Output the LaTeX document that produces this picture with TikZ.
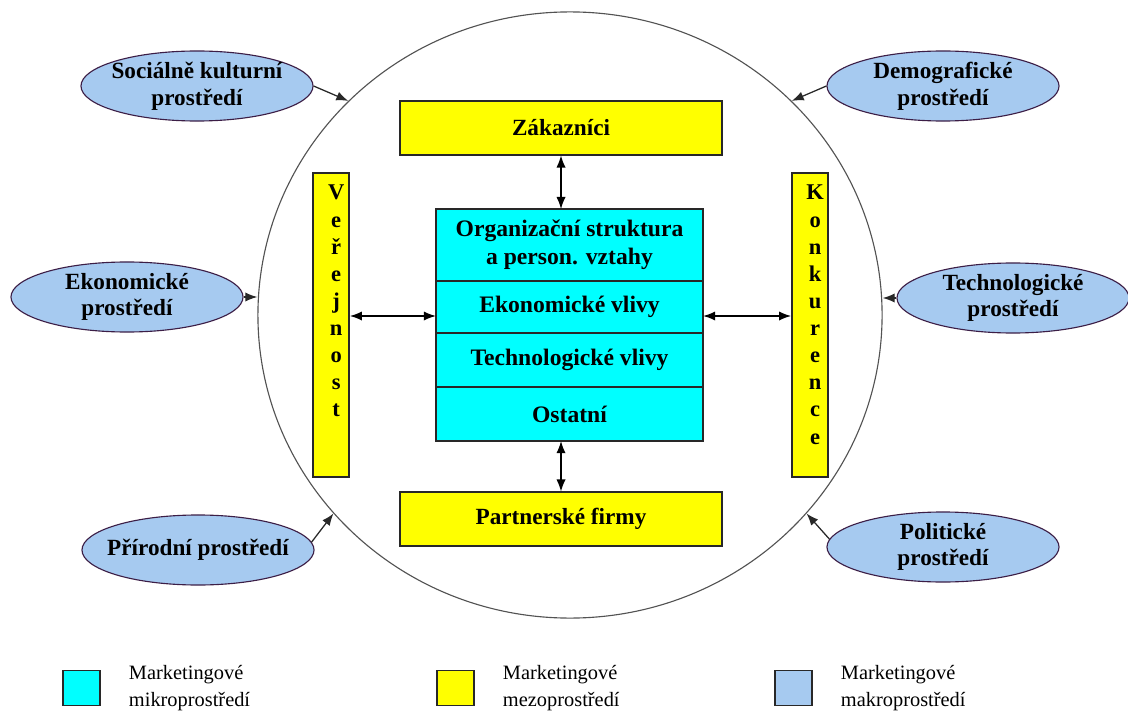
\documentclass[tikz,border=0pt]{standalone}
\usepackage{fontspec}
\setmainfont{Liberation Serif}
\usetikzlibrary{arrows.meta,positioning,shapes.geometric}
\definecolor{mikro}{RGB}{0,255,255}
\definecolor{mezo}{RGB}{255,255,0}
\definecolor{makro}{RGB}{166,202,240}
\definecolor{okraj}{RGB}{40,40,40}
\definecolor{fialka}{RGB}{60,30,70}
\tikzset{
  mezobox/.style={draw=okraj, line width=1.3pt, fill=mezo, inner sep=2pt,
              font=\bfseries\fontsize{16.5}{19}\selectfont, align=center},
  mikrobox/.style={draw=okraj, line width=1.3pt, fill=mikro, inner sep=2pt, outer sep=0pt,
              minimum width=6.68cm, font=\bfseries\fontsize{16.8}{20}\selectfont, align=center},
  makro/.style={ellipse, draw=fialka, line width=0.8pt, fill=makro, inner xsep=-0.3cm, inner ysep=0pt,
              minimum width=5.8cm, minimum height=1.75cm,
              font=\bfseries\fontsize{16.5}{19}\selectfont, align=center},
  sloupec/.style={font=\bfseries\fontsize{16}{19.3}\selectfont, align=center, anchor=north,
              inner sep=0pt, xshift=1.3mm, yshift=-3.2mm},
  legbox/.style={draw=okraj, line width=1pt, minimum width=0.93cm, minimum height=0.88cm},
  legtext/.style={anchor=west, align=left, font=\fontsize{14.5}{19}\selectfont},
  spoj/.style={{Latex[length=3mm,width=2.3mm]}-{Latex[length=3mm,width=2.3mm]}, line width=0.9pt},
  vliv/.style={-{Latex[length=3mm,width=2.3mm]}, line width=0.9pt, okraj},
}

\begin{document}
\begin{tikzpicture}[x=0.025cm,y=-0.025cm]
    \useasboundingbox (0,0) rectangle (1128,715);
    % makroprostredi kolem firmy
    \node[ellipse, draw=okraj!80, line width=0.8pt, minimum width=15.6cm, minimum height=15.15cm,
          inner sep=0pt] (okoli) at (570,315) {};
    \node[makro] (socialni)    at (197,86)  {Sociálně kulturní\\prostředí};
    \node[makro] (demograf)    at (943,86)  {Demografické\\prostředí};
    \node[makro] (ekonomicke)  at (127,297) {Ekonomické\\prostředí};
    \node[makro] (technolog)   at (1013,298) {Technologické\\prostředí};
    \node[makro] (prirodni)    at (198,550) {Přírodní prostředí};
    \node[makro] (politicke)   at (943,547) {Politické\\prostředí};
    \draw[vliv] (socialni.east) -- (okoli.136);
    \draw[vliv] (demograf.west) -- (okoli.44);
    \draw[vliv] (ekonomicke.east) -- (ekonomicke.east -| okoli.west);
    \draw[vliv] (technolog.west) -- (technolog.west -| okoli.east);
    \draw[vliv] (prirodni.4) -- (okoli.220);
    \draw[vliv] (politicke.176) -- (okoli.320);
    % mezoprostredi
    \node[mezobox, minimum width=8.05cm, minimum height=1.33cm] (zakaznici) at (561,128) {Zákazníci};
    \node[mezobox, minimum width=8.05cm, minimum height=1.33cm] (partneri)  at (561,519) {Partnerské firmy};
    \node[mezobox, minimum width=0.9cm, minimum height=7.6cm] (verejnost)  at (331,325) {};
    \node[mezobox, minimum width=0.9cm, minimum height=7.6cm] (konkurence) at (810,325) {};
    \node[sloupec] (verejnost-text) at (verejnost.north)
      {V\\e\\ř\\e\\j\\n\\o\\s\\t};
    \node[sloupec] (konkurence-text) at (konkurence.north)
      {K\\o\\n\\k\\u\\r\\e\\n\\c\\e};
    % mikroprostredi
    \node[mikrobox, minimum height=1.8cm, anchor=north] (org) at (569.5,209)
      {Organizační struktura\\a person. vztahy};
    \node[mikrobox, minimum height=1.3cm, below=0pt of org]   (ekon)    {Ekonomické vlivy};
    \node[mikrobox, minimum height=1.35cm, below=0pt of ekon] (tech)    {Technologické vlivy};
    \node[mikrobox, minimum height=1.35cm, below=0pt of tech] (ostatni) {Ostatní};
    \coordinate (osa) at (0,316);
    \draw[spoj] (zakaznici.south) -- (zakaznici.south |- org.north);
    \draw[spoj] (partneri.north |- ostatni.south) -- (partneri.north);
    \draw[spoj] (verejnost.east |- osa) -- (ekon.west |- osa);
    \draw[spoj] (ekon.east |- osa) -- (konkurence.west |- osa);
    % legenda
    \node[legbox, fill=mikro] (leg-mikro) at (81.5,688) {};
    \node[legbox, fill=mezo]  (leg-mezo)  at (455.5,688) {};
    \node[legbox, fill=makro] (leg-makro) at (793.5,688) {};
    \node[legtext] (leg-mikro-text) at (124,688) {Marketingové\\mikroprostředí};
    \node[legtext] (leg-mezo-text)  at (498,688) {Marketingové\\mezoprostředí};
    \node[legtext] (leg-makro-text) at (836,688) {Marketingové\\makroprostředí};
\end{tikzpicture}
\end{document}
